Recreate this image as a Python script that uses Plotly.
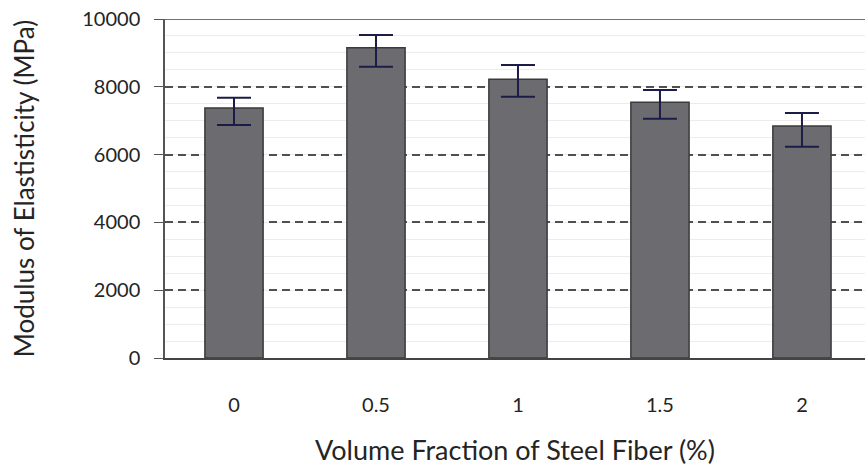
import plotly.graph_objects as go

# Steel fiber volume fraction (%) and measured modulus of elasticity (MPa)
fractions = ["0", "0.5", "1", "1.5", "2"]
modulus = [7375, 9150, 8220, 7545, 6845]
err_plus = [300, 380, 420, 360, 380]
err_minus = [500, 560, 510, 490, 610]

y_ticks = [0, 2000, 4000, 6000, 8000, 10000]
y_tick_text = ["0", "2000", "4000", "6000", "8000", "10000"]

fig = go.Figure()
fig.add_trace(go.Bar(
    x=fractions,
    y=modulus,
    width=0.41,
    marker=dict(color="#6c6c70", line=dict(color="#3a3a3a", width=1.5)),
    error_y=dict(
        type="data",
        symmetric=False,
        array=err_plus,
        arrayminus=err_minus,
        color="#1c1c48",
        thickness=2,
        width=17,
    ),
    showlegend=False,
))

font_family = "Lato, 'Open Sans', sans-serif"
text_color = "#242424"

fig.update_layout(
    width=865,
    height=467,
    margin=dict(l=165, r=0, t=19, b=109),
    paper_bgcolor="white",
    plot_bgcolor="white",
    font=dict(family=font_family, color=text_color),
    xaxis=dict(
        type="category",
        range=[-0.486, 4.444],
        showgrid=False,
        showline=True,
        linecolor="#444444",
        linewidth=1.5,
        ticks="",
        tickfont=dict(size=20, color=text_color),
        ticklabelstandoff=28,
        title=dict(text="Volume Fraction of Steel Fiber (%)",
                   font=dict(size=27, color=text_color), standoff=26),
    ),
    yaxis=dict(
        range=[0, 10000],
        tickvals=y_ticks,
        ticktext=y_tick_text,
        showgrid=True,
        gridcolor="#505050",
        griddash="8px,5px",
        gridwidth=1.8,
        minor=dict(dtick=500, showgrid=True, gridcolor="#ececec",
                   griddash="solid", gridwidth=1),
        showline=True,
        linecolor="#555555",
        linewidth=1.5,
        ticks="outside",
        ticklen=9,
        tickcolor="#555555",
        tickfont=dict(size=20, color=text_color),
        ticklabelstandoff=10,
        zeroline=False,
        title=dict(text="Modulus of Elastisticity (MPa)",
                   font=dict(size=26, color=text_color), standoff=40),
    ),
)

# Solid frame line along the top of the plotting area
fig.add_shape(type="line", xref="paper", yref="y", x0=0, x1=1, y0=10000, y1=10000,
              line=dict(color="#444444", width=1.5))

fig.write_html("out.html")
